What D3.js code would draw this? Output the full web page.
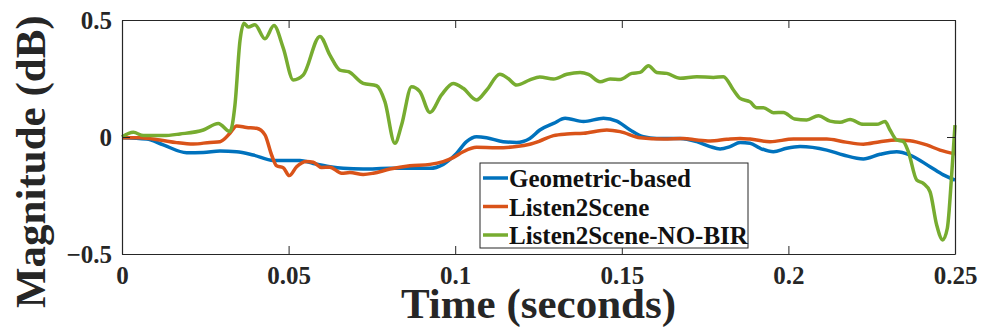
<!DOCTYPE html>
<html><head><meta charset="utf-8">
<script src="https://cdn.jsdelivr.net/npm/d3@7"></script>
<style>body{margin:0;background:#fff}svg{display:block}</style>
</head><body>
<svg id="c" width="982" height="328"></svg>
<script>
const xTicks = [0, 0.05, 0.1, 0.15, 0.2, 0.25];
const yTicks = [-0.5, 0, 0.5];
const seriesNames = ["Geometric-based", "Listen2Scene", "Listen2Scene-NO-BIR"];
const seriesColors = ["#0072BD", "#D95319", "#77AC30"];

const geoT = [0,.0074,.0124,.0194,.0244,.0294,.0344,.0394,.0454,.0534,.0574,.0624,.0664,.0724,.0804,.0864,.0924,.0964,.1004,.1034,.1064,.1094,.1144,.1184,.1224,.1254,.1295,.133,.1385,.1445,.1485,.1525,.1565,.1605,.1675,.1725,.1765,.1795,.1825,.1855,.1885,.1915,.1955,.1995,.2035,.2115,.2165,.2225,.2275,.2325,.2365,.2425,.2465,.25];
const geoV = [-.003,-.009,-.034,-.067,-.066,-.06,-.063,-.077,-.1,-.1,-.113,-.127,-.134,-.137,-.134,-.134,-.134,-.117,-.07,-.02,.001,-.003,-.02,-.023,-.006,.03,.058,.08,.066,.08,.068,.03,.001,-.006,-.006,-.02,-.041,-.051,-.041,-.024,-.027,-.048,-.063,-.048,-.041,-.056,-.077,-.094,-.074,-.063,-.077,-.127,-.162,-.184];

const l2sT = [0,.0054,.0114,.0164,.0214,.0264,.0294,.0324,.0344,.0374,.0404,.0429,.0449,.0464,.0484,.0502,.0524,.0554,.0574,.0599,.0624,.0659,.0684,.0724,.0754,.0804,.0864,.0924,.0964,.0994,.1024,.1064,.1124,.1184,.1224,.1254,.1295,.1335,.1385,.1455,.1495,.1555,.1625,.1685,.1725,.1765,.1815,.1855,.1885,.1945,.2015,.2115,.2165,.2225,.2275,.2325,.2365,.2415,.2455,.25];
const l2sV = [-.003,-.003,-.013,-.024,-.03,-.023,-.02,.016,.047,.041,.037,.009,-.077,-.123,-.131,-.165,-.127,-.105,-.108,-.13,-.129,-.155,-.152,-.16,-.155,-.137,-.123,-.117,-.105,-.088,-.063,-.044,-.046,-.041,-.031,-.017,.006,.013,.016,.03,.023,-.003,-.009,-.006,-.013,-.017,-.01,-.006,-.009,-.02,-.009,-.009,-.02,-.031,-.02,-.013,-.016,-.034,-.056,-.072];

const noBirT = [0,.0034,.0064,.0124,.0174,.0244,.0289,.0324,.0339,.0354,.0366,.0379,.0399,.0429,.0456,.0484,.0514,.0544,.0594,.0624,.0654,.068,.0724,.0764,.0789,.0819,.0839,.0869,.0894,.0924,.0959,.0994,.1024,.1064,.1094,.1134,.1159,.1184,.1224,.1254,.1295,.1335,.1375,.14,.1435,.1465,.1495,.153,.1555,.158,.1605,.1635,.1675,.1725,.1775,.1805,.1835,.1855,.1885,.1905,.1925,.1955,.1985,.2019,.2055,.209,.2125,.2155,.2185,.2225,.2265,.229,.2305,.2325,.2345,.236,.2385,.2405,.2425,.2445,.2463,.2477,.249,.25];
const noBirV = [0,.02,.006,.006,.013,.03,.058,.023,.137,.41,.486,.47,.48,.42,.476,.38,.244,.265,.43,.35,.286,.279,.229,.219,.151,-.027,.051,.215,.194,.105,.18,.229,.208,.158,.2,.268,.25,.222,.244,.256,.248,.268,.276,.268,.236,.248,.246,.272,.276,.305,.276,.272,.251,.258,.254,.258,.201,.165,.15,.125,.125,.104,.105,.077,.073,.091,.068,.063,.075,.054,.054,.066,.03,-.013,-.02,-.063,-.184,-.198,-.234,-.376,-.44,-.39,-.162,.051];

const seriesT = [geoT, l2sT, noBirT];
const seriesV = [geoV, l2sV, noBirV];

const svg = d3.select("#c");
const L = 122, R = 955, T = 20, B = 254;
const x = d3.scaleLinear().domain([0, 0.25]).range([L, R]);
const y = d3.scaleLinear().domain([-0.5, 0.5]).range([B, T]);
const axCol = "#262626";
const font = "'Liberation Serif','Times New Roman',serif";

// plot lines
const line = d3.line().x(d => x(d[0])).y(d => y(d[1])).curve(d3.curveMonotoneX);
seriesT.forEach((ts, i) => {
  const pts = ts.map((t, k) => [t, seriesV[i][k]]);
  svg.append("path").datum(pts).attr("d", line)
    .attr("fill", "none").attr("stroke", seriesColors[i])
    .attr("stroke-width", 3.5).attr("stroke-linejoin", "round");
});

// axes (MATLAB style, box on, inward ticks)
const tl = 8;
const gB = svg.append("g").attr("transform", `translate(0,${B})`)
  .call(d3.axisBottom(x).tickValues(xTicks).tickSizeInner(-tl).tickSizeOuter(0).tickPadding(14).tickFormat(d => d3.format("")(d)));
const gT = svg.append("g").attr("transform", `translate(0,${T})`)
  .call(d3.axisTop(x).tickValues(xTicks).tickSizeInner(-tl).tickSizeOuter(0).tickFormat(""));
const gL = svg.append("g").attr("transform", `translate(${L},0)`)
  .call(d3.axisLeft(y).tickValues(yTicks).tickSizeInner(-tl).tickSizeOuter(0).tickPadding(10).tickFormat(d => d3.format("")(d)));
const gR = svg.append("g").attr("transform", `translate(${R},0)`)
  .call(d3.axisRight(y).tickValues(yTicks).tickSizeInner(-tl).tickSizeOuter(0).tickFormat(""));
[gB, gT, gL, gR].forEach(g => {
  g.select(".domain").attr("stroke", axCol).attr("stroke-width", 1.2);
  g.selectAll(".tick line").attr("stroke", axCol).attr("stroke-width", 1);
  g.selectAll("text").attr("font-family", font).attr("font-weight", "bold")
    .attr("font-size", 25).attr("fill", axCol);
});
gB.selectAll(".tick text").attr("dy", "0.71em").attr("y", 12);
gL.selectAll(".tick text").attr("dy", "0.35em");

// axis titles
svg.append("text").attr("x", (L + R) / 2).attr("y", 318)
  .attr("text-anchor", "middle").attr("font-family", font).attr("font-weight", "bold")
  .attr("font-size", 43).attr("fill", axCol).text("Time (seconds)");
svg.append("text").attr("transform", "translate(45,308) rotate(-90)")
  .attr("text-anchor", "start").attr("font-family", font).attr("font-weight", "bold")
  .attr("font-size", 43).attr("fill", axCol).text("Magnitude (dB)");

// legend
const lg = svg.append("g");
lg.append("rect").attr("x", 480).attr("y", 163).attr("width", 268).attr("height", 85)
  .attr("fill", "#fff").attr("stroke", axCol).attr("stroke-width", 1);
const rowY = [178, 206.5, 235];
seriesNames.forEach((n, i) => {
  lg.append("line").attr("x1", 483).attr("x2", 508).attr("y1", rowY[i]).attr("y2", rowY[i])
    .attr("stroke", seriesColors[i]).attr("stroke-width", 3.5);
  lg.append("text").attr("x", 509).attr("y", rowY[i] + 9)
    .attr("font-family", font).attr("font-weight", "bold").attr("font-size", 25)
    .attr("fill", "#111").text(n);
});
</script>
</body></html>
